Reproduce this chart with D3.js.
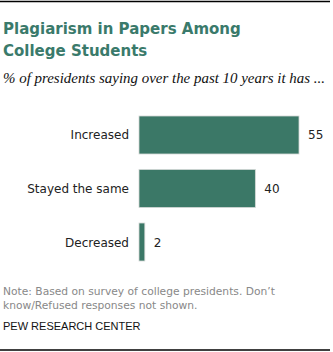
<!DOCTYPE html>
<html>
<head>
<meta charset="utf-8">
<script src="https://cdn.jsdelivr.net/npm/d3@7"></script>
<style>
  body { margin: 0; background: #fff; }
</style>
</head>
<body>
<div id="chart"></div>
<script>
// survey answers and shares
var categories = ["Increased", "Stayed the same", "Decreased"];
var values = [55, 40, 2];

var width = 333, height = 352;
var barColor = "#3b7867";

var svg = d3.select("#chart").append("svg")
    .attr("width", width)
    .attr("height", height);

// rule lines top and bottom
svg.append("line")
    .attr("x1", 0).attr("x2", 330)
    .attr("y1", 1.5).attr("y2", 1.5)
    .attr("stroke", "#000").attr("stroke-width", 1.5);
svg.append("line")
    .attr("x1", 0).attr("x2", 330)
    .attr("y1", 350).attr("y2", 350)
    .attr("stroke", "#000").attr("stroke-width", 1.5);

// title
var title = svg.append("text")
    .attr("font-family", "DejaVu Sans, Verdana, sans-serif")
    .attr("font-weight", "bold")
    .attr("font-size", 15)
    .attr("fill", "#3a7a6b");
title.append("tspan").attr("x", 3).attr("y", 34).text("Plagiarism in Papers Among");
title.append("tspan").attr("x", 3).attr("y", 56).text("College Students");

// subtitle
svg.append("text")
    .attr("font-family", "Liberation Serif, Georgia, serif")
    .attr("font-style", "italic")
    .attr("font-size", 14.5)
    .attr("fill", "#111")
    .attr("x", 3)
    .attr("y", 83)
    .attr("textLength", 322)
    .attr("lengthAdjust", "spacingAndGlyphs")
    .text("% of presidents saying over the past 10 years it has ...");

var x = d3.scaleLinear()
    .domain([0, 55])
    .range([0, 160]);

var y = d3.scaleBand()
    .domain(categories)
    .range([116, 261])
    .paddingInner(0.29)
    .paddingOuter(0);

var x0 = 139;

var rows = svg.selectAll("g.row")
    .data(categories)
    .enter().append("g")
    .attr("class", "row");

rows.append("rect")
    .attr("x", x0)
    .attr("y", function(d) { return y(d); })
    .attr("width", function(d, i) { return x(values[i]); })
    .attr("height", y.bandwidth())
    .attr("fill", barColor)
    .attr("stroke", "#d4d8d6")
    .attr("stroke-width", 0.8);

rows.append("text")
    .attr("font-family", "DejaVu Sans, Verdana, sans-serif")
    .attr("font-size", 12)
    .attr("fill", "#222")
    .attr("text-anchor", "end")
    .attr("x", x0 - 10)
    .attr("y", function(d) { return y(d) + y.bandwidth() / 2 + 4.5; })
    .text(function(d) { return d; });

rows.append("text")
    .attr("font-family", "DejaVu Sans, Verdana, sans-serif")
    .attr("font-size", 12)
    .attr("fill", "#222")
    .attr("x", function(d, i) { return x0 + x(values[i]) + 9; })
    .attr("y", function(d) { return y(d) + y.bandwidth() / 2 + 4.5; })
    .text(function(d, i) { return values[i]; });

// note and source
var note = svg.append("text")
    .attr("font-family", "DejaVu Sans, Verdana, sans-serif")
    .attr("font-size", 10.7)
    .attr("fill", "#888");
note.append("tspan").attr("x", 3).attr("y", 295).text("Note: Based on survey of college presidents. Don\u2019t");
note.append("tspan").attr("x", 3).attr("y", 309).text("know/Refused responses not shown.");

svg.append("text")
    .attr("font-family", "Liberation Sans, Arial, sans-serif")
    .attr("font-size", 11)
    .attr("fill", "#111")
    .attr("x", 3)
    .attr("y", 330)
    .text("PEW RESEARCH CENTER");
</script>
</body>
</html>
